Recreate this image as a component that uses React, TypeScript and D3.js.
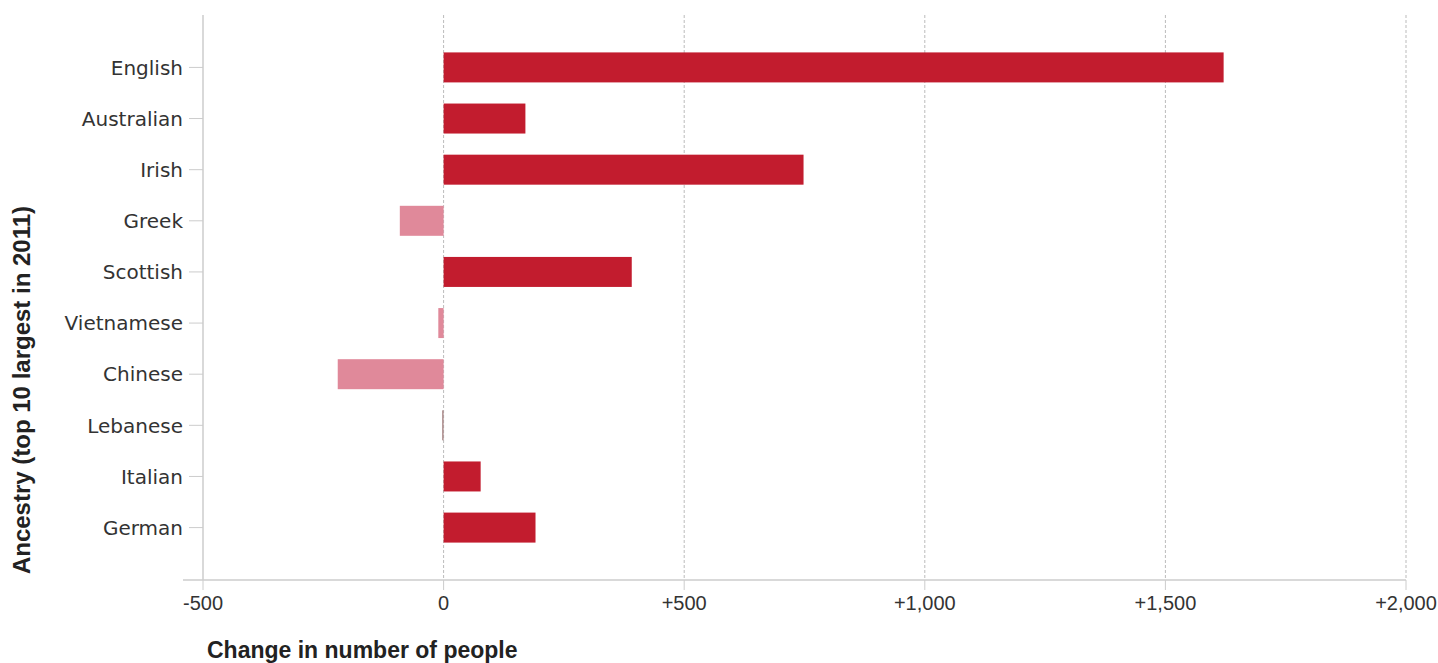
import React from "react";
import * as d3 from "d3";

const categories = ["English", "Australian", "Irish", "Greek", "Scottish", "Vietnamese", "Chinese", "Lebanese", "Italian", "German"];
const values = [1621, 170, 748, -91, 391, -11, -220, -3, 77, 191];
const xTicks = [-500, 0, 500, 1000, 1500, 2000];
const xTickLabels = ["-500", "0", "+500", "+1,000", "+1,500", "+2,000"];

const W = 1438;
const H = 663;
const left = 203;
const right = 1406;
const top = 15;
const bottom = 580;
const font = "'Liberation Sans', Arial, sans-serif";
const labelFont = "'DejaVu Sans', Verdana, sans-serif";

export default function App() {
  const x = d3.scaleLinear().domain([-500, 2000]).range([left, right]);
  const y = d3.scaleBand<string>().domain(categories).range([top, bottom]).paddingInner(0.41).paddingOuter(0.73);
  const bh = 30;
  return (
    <svg width={W} height={H} style={{ position: "absolute", left: 0, top: 0, background: "#fff" }}>
      {xTicks.map((t, i) => (
        <g key={t}>
          {i > 0 && (
            <line x1={x(t)} x2={x(t)} y1={top} y2={bottom} stroke="#bbb" strokeWidth={1} strokeDasharray="3,2" />
          )}
          <line x1={x(t)} x2={x(t)} y1={bottom} y2={bottom + 10} stroke="#ccc" strokeWidth={1} />
          <text x={x(t)} y={bottom + 30} textAnchor="middle" fontFamily={font} fontSize={20} fill="#333">
            {xTickLabels[i]}
          </text>
        </g>
      ))}
      <line x1={left} x2={left} y1={top} y2={bottom} stroke="#ccc" strokeWidth={1.5} />
      <line x1={183} x2={right} y1={bottom} y2={bottom} stroke="#ccc" strokeWidth={1.5} />
      {categories.map((c, i) => {
        const cy = (y(c) as number) + y.bandwidth() / 2;
        const v = values[i];
        const x0 = x(Math.min(0, v));
        const w = Math.max(1, Math.abs(x(v) - x(0)));
        return (
          <g key={c}>
            <line x1={left - 14} x2={left} y1={cy} y2={cy} stroke="#ccc" strokeWidth={1} />
            <text x={left - 20} y={cy} dy="0.36em" textAnchor="end" fontFamily={labelFont} fontSize={20} fill="#333">
              {c}
            </text>
            <rect
              x={x0}
              y={cy - bh / 2}
              width={w}
              height={bh}
              fill={v >= 0 ? "#c21c2e" : v > -5 ? "#a88" : "#e0899a"}
            />
          </g>
        );
      })}
      <text
        transform={`translate(30,390) rotate(-90)`}
        textAnchor="middle"
        fontFamily={font}
        fontSize={24}
        fontWeight="bold"
        fill="#222"
      >
        Ancestry (top 10 largest in 2011)
      </text>
      <text x={207} y={658} fontFamily={font} fontSize={23} fontWeight="bold" fill="#222">
        Change in number of people
      </text>
    </svg>
  );
}
